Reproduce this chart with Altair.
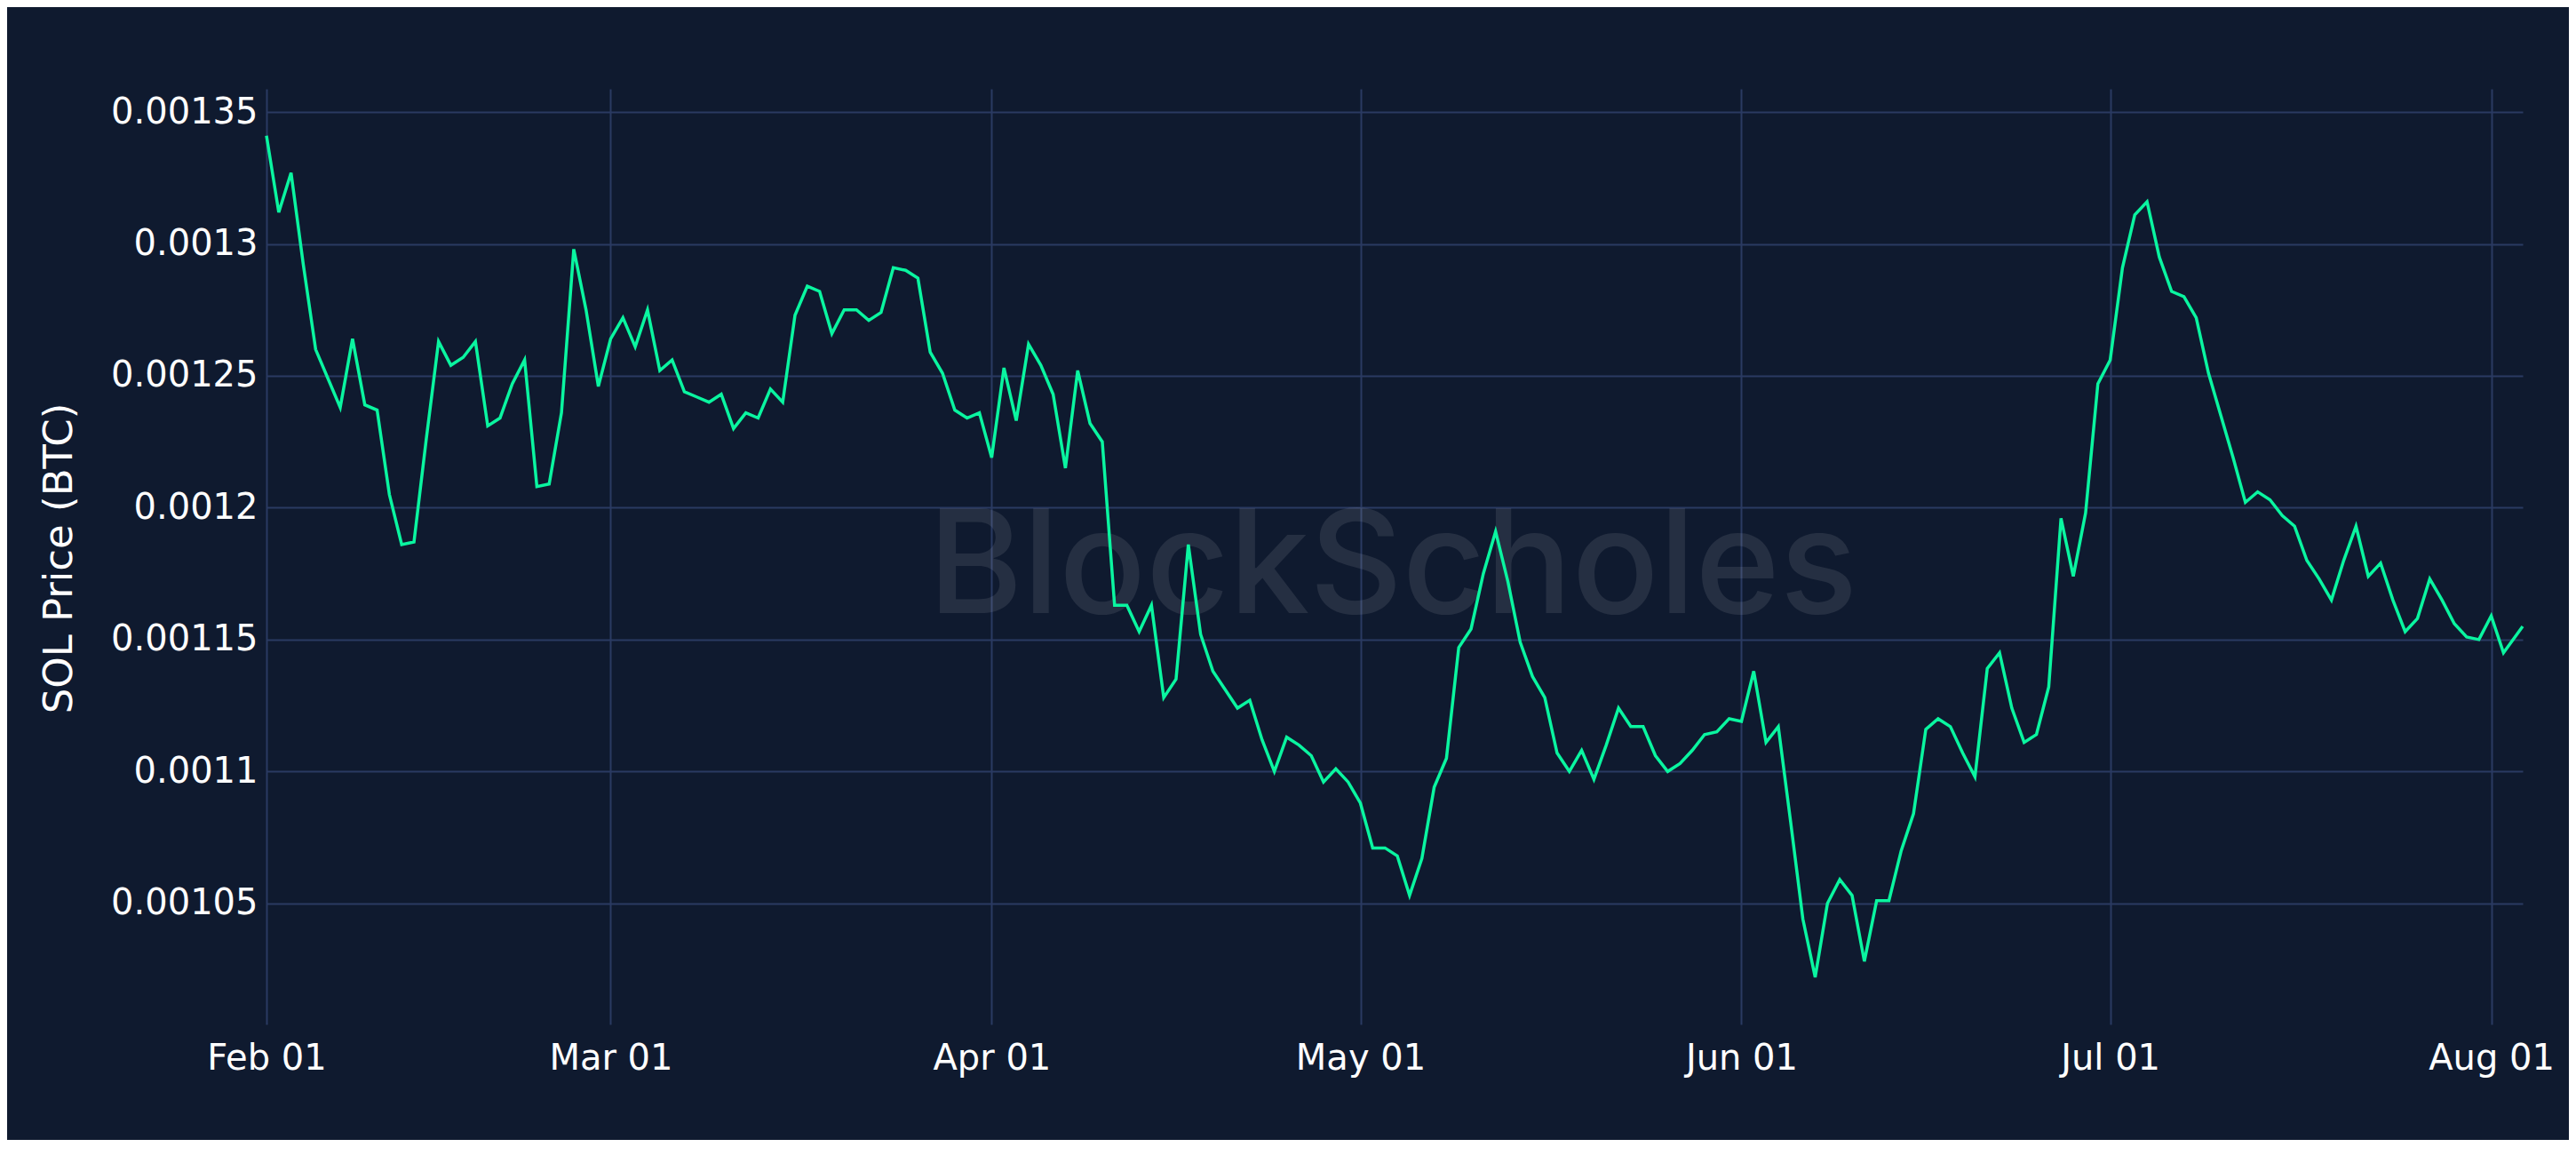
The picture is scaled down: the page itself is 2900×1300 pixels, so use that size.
import altair as alt
import pandas as pd

# ---- data ----
day_dates = list(pd.date_range("2023-02-01", "2023-08-02", freq="D").strftime("%Y-%m-%dT00:00:00Z"))
last_stamp = ["2023-08-03T13:30:00Z"]
dates = day_dates + last_stamp

sol_btc = [
    0.001341, 0.001312, 0.001327, 0.001292, 0.001260, 0.001249, 0.001238, 0.001264, 0.001239, 0.001237,
    0.001205, 0.001186, 0.001187, 0.001226, 0.001263, 0.001254, 0.001257, 0.001263, 0.001231, 0.001234,
    0.001247, 0.001256, 0.001208, 0.001209, 0.001236, 0.001298, 0.001275, 0.001246, 0.001264, 0.001272,
    0.001261, 0.001275, 0.001252, 0.001256, 0.001244, 0.001242, 0.001240, 0.001243, 0.001230, 0.001236,
    0.001234, 0.001245, 0.001240, 0.001273, 0.001284, 0.001282, 0.001266, 0.001275, 0.001275, 0.001271,
    0.001274, 0.001291, 0.001290, 0.001287, 0.001259, 0.001251, 0.001237, 0.001234, 0.001236, 0.001219,
    0.001253, 0.001233, 0.001262, 0.001254, 0.001243, 0.001215, 0.001252, 0.001232, 0.001225, 0.001163,
    0.001163, 0.001153, 0.001163, 0.001128, 0.001135, 0.001186, 0.001152, 0.001138, 0.001131, 0.001124,
    0.001127, 0.001112, 0.001100, 0.001113, 0.001110, 0.001106, 0.001096, 0.001101, 0.001096, 0.001088,
    0.001071, 0.001071, 0.001068, 0.001053, 0.001067, 0.001094, 0.001105, 0.001147, 0.001154, 0.001175,
    0.001191, 0.001172, 0.001149, 0.001136, 0.001128, 0.001107, 0.001100, 0.001108, 0.001097, 0.001110,
    0.001124, 0.001117, 0.001117, 0.001106, 0.001100, 0.001103, 0.001108, 0.001114, 0.001115, 0.001120,
    0.001119, 0.001138, 0.001111, 0.001117, 0.001081, 0.001044, 0.001022, 0.001050, 0.001059, 0.001053,
    0.001028, 0.001051, 0.001051, 0.001070, 0.001084, 0.001116, 0.001120, 0.001117, 0.001107, 0.001098,
    0.001139, 0.001145, 0.001124, 0.001111, 0.001114, 0.001132, 0.001196, 0.001174, 0.001198, 0.001247,
    0.001256, 0.001291, 0.001311, 0.001316, 0.001295, 0.001282, 0.001280, 0.001272, 0.001251, 0.001235,
    0.001219, 0.001202, 0.001206, 0.001203, 0.001197, 0.001193, 0.001180, 0.001173, 0.001165, 0.001180,
    0.001193, 0.001174, 0.001179, 0.001165, 0.001153, 0.001158, 0.001173, 0.001165, 0.001156, 0.001151,
    0.001150, 0.001159, 0.001145, 0.001155,
]

y_ticks = [0.00105, 0.0011, 0.00115, 0.0012, 0.00125, 0.0013, 0.00135]
x_tick_months = [2, 3, 4, 5, 6, 7, 8]
y_title = "SOL Price (BTC)"
watermark = ["BlockScholes"]

# ---- styling ----
BG = "#0f1a2f"
GRID = "#2a3a62"
LINE = "#0af5a0"
FONT = "DejaVu Sans"

W, H = 2540, 1053

df = pd.DataFrame({"date": dates, "price": sol_btc})
wm_df = pd.DataFrame({"t": watermark})

x_values = [alt.DateTime(year=2023, month=m, date=1, utc=True) for m in x_tick_months]
x_domain = [
    alt.DateTime(year=2023, month=2, date=1, utc=True),
    alt.DateTime(year=2023, month=8, date=3, hours=13, minutes=30, utc=True),
]

line = alt.Chart(df).mark_line(color=LINE, strokeWidth=3.5).encode(
    x=alt.X(
        "date:T",
        scale=alt.Scale(type="utc", domain=x_domain, nice=False),
        axis=alt.Axis(title=None, values=x_values,
                      labelExpr="utcFormat(datum.value, '%b %d')",
                      labelFlush=False, labelAlign="center", labelPadding=18),
    ),
    y=alt.Y(
        "price:Q",
        scale=alt.Scale(domain=[0.0010041, 0.0013588], zero=False, nice=False),
        axis=alt.Axis(title=y_title, values=y_ticks, format="~g", labelPadding=10,
                      titleAngle=270, titleX=-234, titleY=528, titleBaseline="middle",
                      titleAlign="center"),
    ),
)

wm = alt.Chart(wm_df).mark_text(
    font="Inter", fontSize=162, fontWeight=500, color="white", opacity=0.09,
    align="center", baseline="alphabetic",
).encode(text="t:N", x=alt.value(W / 2 - 2), y=alt.value(590))

chart = alt.layer(wm, line).properties(
    width=W,
    height=H,
    autosize=alt.AutoSizeParams(type="none"),
    padding={"left": 292, "top": 92, "right": 52, "bottom": 130},
    background=BG,
).configure_view(
    strokeWidth=0,
).configure_axis(
    grid=True,
    gridColor=GRID,
    gridWidth=2,
    domain=False,
    ticks=False,
    tickSize=0,
    labelColor="#ffffff",
    labelFont=FONT,
    labelFontSize=40,
    titleColor="#ffffff",
    titleFont=FONT,
    titleFontSize=45,
    titleFontWeight="normal",
)

chart.save("out.html", embed_options={"renderer": "svg", "actions": False})
